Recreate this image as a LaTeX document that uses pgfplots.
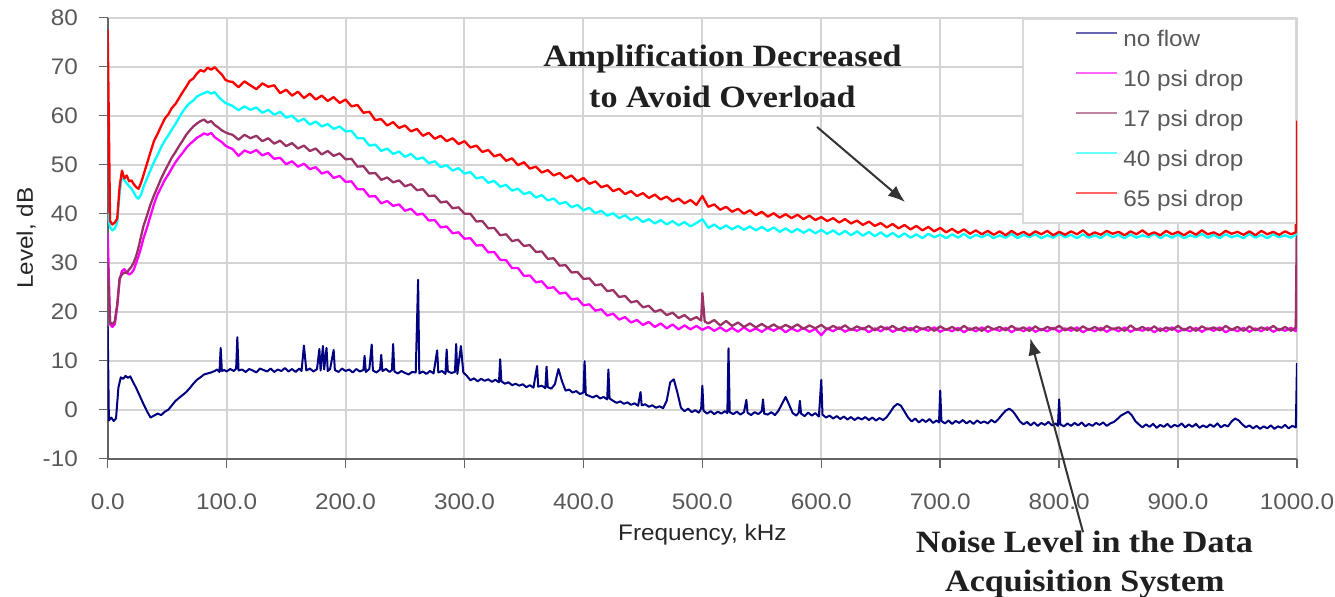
\documentclass[border=0pt]{standalone}
\usepackage{pgfplots}
\pgfplotsset{compat=1.18}
\usetikzlibrary{arrows.meta}
\usepackage{fontspec}
\setmainfont{Liberation Sans}[FakeStretch=1.08]
\newfontfamily\annotfont{Liberation Serif}[FakeStretch=1.1]

\definecolor{noflow}{RGB}{0,0,128}
\definecolor{psiten}{RGB}{255,0,255}
\definecolor{psiseventeen}{RGB}{153,51,102}
\definecolor{psiforty}{RGB}{0,255,255}
\definecolor{psisixtyfive}{RGB}{255,0,0}
\definecolor{gridgray}{RGB}{212,212,212}
\definecolor{axisgray}{RGB}{100,100,100}
\definecolor{labelgray}{RGB}{89,89,89}
\definecolor{legendframe}{RGB}{217,217,217}

\newcommand\chartfont{\fontsize{22.5bp}{27bp}\selectfont}
\newcommand\notefont{\annotfont\bfseries\fontsize{31bp}{36bp}\selectfont}

\begin{document}
\begin{tikzpicture}
\begin{axis}[
  at={(0,0)}, anchor=south west,
  scale only axis, width=1189.3bp, height=441bp,
  xmin=0, xmax=1000, ymin=-10, ymax=80,
  axis x line*=bottom, axis y line*=left,
  axis line style={line width=2bp, draw=axisgray},
  xtick={0,100,...,1000},
  xticklabels={0.0,100.0,200.0,300.0,400.0,500.0,600.0,700.0,800.0,900.0,1000.0},
  ytick={-10,0,...,80},
  yticklabels={-10,0,10,20,30,40,50,60,70,80},
  tick align=outside, major tick length=9bp,
  tick style={line width=1.5bp, draw=axisgray},
  grid=major, major grid style={line width=2bp, draw=gridgray},
  ticklabel style={font=\chartfont, text=labelgray, inner sep=0pt},
  xticklabel style={anchor=north, yshift=-26bp},
  yticklabel style={anchor=east, xshift=-20.7bp},
  xlabel={Frequency, kHz}, ylabel={Level, dB},
  label style={font=\chartfont, text=black!85, inner sep=0pt},
  xlabel style={at={([yshift=-81.3bp]axis description cs:0.5,0)}, anchor=base},
  ylabel style={at={([xshift=-74.7bp]axis description cs:0,0.5)}, anchor=base},
  clip mode=individual,
  every axis plot/.append style={line width=2.3bp, mark=none, line join=round},
  legend cell align=left,
  legend style={
    at={(0.7688,0.9993)}, anchor=north west,
    draw=legendframe, line width=1.5bp, fill=white,
    inner xsep=52bp, inner ysep=10.5bp,
    font=\chartfont, text=labelgray,
    row sep=17bp,
    nodes={inner sep=0pt, text height=17bp, text depth=6bp},
    /tikz/every odd column/.append style={column sep=5bp},
  },
  legend image code/.code={\draw[#1, line width=2.5bp, opacity=0.6] (0bp,8bp) -- (41bp,8bp);},
]

% no flow
\addplot[noflow, line width=2bp] coordinates {
(0,17.0) (1,-2.2) (3,-1.6) (5,-2.3) (7,-1.8) (9,4.5) (11,6.6) (13,6.3) (15,6.9) (17,6.5) (19,6.8) (21,5.8) (24,4.4) (27,2.8) (30,1.2) (33,-0.3) (36,-1.6) (39,-1.2) (42,-0.8) (45,-1.1) (48,-0.4) (51,0.0) (54,0.9) (57,1.8) (60,2.4) (63,3.0) (66,3.6) (69,4.4) (72,5.3) (75,6.1) (78,6.6) (81,7.2) (84,7.4) (87,7.6) (90,7.9) (92,8.2) (94,7.7) (95,12.6) (96,7.9) (98,8.1)
(100,7.8) (103,8.3) (106,7.9) (108,8.4) (109,14.8) (110,8.0) (113,8.2) (116,7.7) (119,8.3) (122,8.0) (125,7.6) (128,8.4) (131,8.1) (134,7.8) (137,8.4) (140,7.7) (143,8.2) (146,7.9) (149,8.5) (152,7.8) (155,8.3) (158,7.7) (161,8.4) (163,7.9) (165,13.1) (167,8.0) (170,8.4) (173,7.8) (176,8.3) (178,12.4) (179,8.0) (181,13.0) (182,8.2) (184,12.6) (185,7.9) (187,8.3) (190,12.2) (191,8.1) (194,7.7) (197,8.4)
(200,7.9) (203,8.2) (206,7.6) (209,8.3) (212,7.8) (215,8.1) (216,11.0) (217,7.7) (220,8.3) (222,13.3) (223,8.0) (226,7.6) (229,8.2) (230,11.2) (231,7.9) (234,8.3) (237,7.7) (239,8.1) (240,13.4) (241,7.8) (244,7.4) (247,7.9) (250,7.5) (253,7.2) (256,7.7) (259,7.6) (261,26.5) (262,7.4) (265,7.8) (268,7.3) (271,7.9) (274,7.4) (277,12.1) (278,7.6) (281,7.9) (284,7.3) (285,12.3) (286,7.8) (289,7.5) (292,7.7) (293,13.4) (294,7.3) (297,13.0) (299,7.6)
(302,6.9) (305,6.0) (308,6.4) (311,5.8) (314,6.3) (317,5.9) (320,6.2) (323,5.7) (326,6.1) (329,5.6) (330,10.3) (331,5.8) (334,5.3) (337,5.6) (340,5.0) (343,5.3) (346,4.9) (349,5.2) (352,4.6) (355,5.0) (358,4.5) (361,8.9) (362,4.7) (365,4.9) (368,4.4) (369,8.8) (370,4.6) (373,4.3) (376,5.2) (379,8.3) (382,5.8) (385,3.9) (388,4.1) (391,3.5) (394,3.8) (397,3.2)
(400,3.5) (401,9.9) (402,3.1) (405,2.8) (408,2.5) (411,2.9) (414,2.3) (417,2.6) (420,2.1) (421,8.2) (422,2.3) (425,1.8) (428,1.4) (431,1.7) (434,1.2) (437,1.5) (440,1.0) (443,1.3) (446,0.8) (448,3.6) (449,0.9) (452,1.1) (455,0.6) (458,0.9) (461,0.4) (464,0.7) (467,0.3) (470,1.8) (473,5.6) (476,6.2) (479,3.5) (482,0.4) (485,-0.3) (488,0.2) (491,-0.5) (494,-0.1) (497,-0.6) (499,0.2)
(500,4.9) (501,-0.2) (504,-0.8) (507,-0.3) (510,-0.9) (513,-0.4) (516,-0.8) (519,-0.3) (521,-0.7) (522,12.5) (523,-0.5) (526,-0.9) (529,-0.4) (532,-1.0) (535,-0.5) (537,2.0) (538,-0.6) (541,-1.1) (544,-0.5) (547,-0.9) (550,-0.3) (551,2.1) (552,-0.8) (555,-1.0) (558,-0.5) (561,-1.1) (564,-0.2) (567,1.2) (570,2.6) (573,1.0) (576,-0.7) (579,-1.2) (581,-0.6) (582,1.8) (583,-0.8) (586,-1.3) (589,-0.6) (592,-1.2) (595,-0.7) (598,-1.4)
(600,6.1) (601,-1.0) (604,-1.6) (607,-1.2) (610,-1.8) (613,-1.3) (616,-1.9) (619,-1.4) (622,-2.0) (625,-1.5) (628,-2.1) (631,-1.6) (634,-2.0) (637,-1.5) (640,-2.1) (643,-1.6) (646,-2.2) (649,-1.7) (652,-2.1) (655,-1.5) (658,-0.5) (661,0.6) (664,1.2) (667,0.8) (670,-0.4) (673,-1.6) (676,-2.4) (679,-1.8) (682,-2.6) (685,-2.0) (688,-2.5) (691,-1.9) (694,-2.7) (697,-2.2) (699,-2.6)
(700,3.9) (701,-2.3) (704,-2.8) (707,-2.2) (710,-2.9) (713,-2.3) (716,-2.7) (719,-2.1) (722,-2.8) (725,-2.3) (728,-2.9) (731,-2.2) (734,-2.7) (737,-2.4) (740,-2.8) (743,-2.1) (746,-2.6) (749,-1.9) (752,-1.0) (755,-0.2) (758,0.2) (761,-0.3) (764,-1.3) (767,-2.4) (770,-3.0) (773,-2.5) (776,-3.2) (779,-2.6) (782,-3.3) (785,-2.7) (788,-3.1) (791,-2.5) (794,-3.2) (797,-2.8) (799,-3.3)
(800,2.1) (801,-3.0) (804,-3.4) (807,-2.8) (810,-3.3) (813,-2.7) (816,-3.2) (819,-2.6) (822,-3.4) (825,-2.9) (828,-3.3) (831,-2.7) (834,-3.1) (837,-2.6) (840,-3.3) (843,-2.8) (846,-2.5) (849,-1.9) (852,-1.2) (855,-0.8) (858,-0.4) (861,-1.1) (864,-2.3) (867,-3.0) (870,-3.6) (873,-3.0) (876,-3.5) (879,-2.9) (882,-3.7) (885,-3.1) (888,-3.5) (891,-2.9) (894,-3.6) (897,-3.1)
(900,-3.4) (903,-2.8) (906,-3.6) (909,-3.0) (912,-3.5) (915,-2.9) (918,-3.7) (921,-3.2) (924,-3.6) (927,-3.0) (930,-3.5) (933,-2.8) (936,-3.6) (939,-3.1) (942,-3.4) (945,-2.4) (948,-1.8) (951,-2.2) (954,-3.0) (957,-3.6) (960,-3.2) (963,-3.8) (966,-3.3) (969,-3.9) (972,-3.4) (975,-3.8) (978,-3.2) (981,-3.9) (984,-3.4) (987,-3.7) (990,-3.1) (993,-3.8) (996,-3.3) (999,-3.6) (1000,9.5)
};
\addlegendentry{no flow}

% 10 psi drop
\addplot[psiten] coordinates {
(0,36.0) (2,17.4) (4,16.9) (6,17.5) (8,21.0) (10,26.5) (12,28.3) (14,28.7) (16,28.0) (18,27.6) (20,27.9) (22,28.6) (24,30.0) (26,31.4) (28,33.0) (30,34.9) (33,37.1) (36,39.6) (39,42.0) (42,44.0) (45,45.4) (48,46.9) (51,48.0) (54,49.3) (57,50.5) (60,51.5) (63,52.4) (66,53.4) (69,54.2) (72,54.8) (75,55.5) (78,55.9) (81,56.4) (84,56.1) (87,56.5) (90,55.6) (93,55.1) (96,54.6) (99,53.9) (102,53.5)
(105,53.2) (110,51.8) (115,52.9) (120,52.4) (125,53.0) (130,51.9) (135,52.4) (140,51.2) (145,51.4) (150,50.1) (155,50.7) (160,49.6) (165,50.2) (170,49.1) (175,49.5) (180,48.2) (185,48.6) (190,47.3) (195,47.7) (200,46.5)
(205,46.6) (210,45.0) (215,45.0) (220,43.5) (225,43.6) (230,42.1) (235,42.6) (240,41.6) (245,41.9) (250,40.6) (255,41.0) (260,39.8) (265,40.0) (270,38.6) (275,38.7) (280,37.2) (285,37.4) (290,36.0) (295,36.2) (300,34.9)
(305,35.0) (310,33.5) (315,33.6) (320,32.1) (325,32.2) (330,30.6) (335,30.5) (340,28.9) (345,28.9) (350,27.3) (355,27.4) (360,26.0) (365,26.2) (370,24.8) (375,25.0) (380,23.7) (385,23.9) (390,22.5) (395,22.7) (400,21.3)
(405,21.5) (410,20.2) (415,20.5) (420,19.2) (425,19.6) (430,18.4) (435,18.9) (440,17.8) (445,18.3) (450,17.3) (455,17.9) (460,16.9) (465,17.6) (470,16.6) (475,17.4) (480,16.4) (485,17.2) (490,16.4) (495,17.1) (500,16.3)
(505,16.9) (510,16.1) (515,16.8) (520,16.0) (525,16.7) (530,15.9) (535,16.8) (540,16.0) (545,16.6) (550,15.9) (555,16.7) (560,16.1) (565,16.8) (570,15.8) (575,16.6) (580,16.0) (585,16.7) (590,15.9) (595,16.5) (600,15.2)
(605,16.6) (610,16.0) (615,16.8) (620,15.9) (625,16.5) (630,16.1) (635,16.7) (640,15.8) (645,16.6) (650,16.0) (655,16.8) (660,15.9) (665,16.5) (670,16.0) (675,16.7) (680,15.9) (685,16.6) (690,16.1) (695,16.8) (700,15.9)
(705,16.5) (710,16.0) (715,16.7) (720,15.8) (725,16.6) (730,16.0) (735,16.8) (740,15.9) (745,16.5) (750,16.1) (755,16.7) (760,15.8) (765,16.6) (770,16.0) (775,16.8) (780,15.9) (785,16.5) (790,16.0) (795,16.7) (800,15.9)
(805,16.6) (810,16.1) (815,16.8) (820,15.8) (825,16.5) (830,16.0) (835,16.7) (840,15.9) (845,16.6) (850,16.0) (855,16.8) (860,15.9) (865,16.5) (870,16.1) (875,16.7) (880,15.8) (885,16.6) (890,16.0) (895,16.8) (900,15.9)
(905,16.5) (910,16.0) (915,16.7) (920,15.9) (925,16.6) (930,16.1) (935,16.8) (940,15.8) (945,16.5) (950,16.0) (955,16.7) (960,15.9) (965,16.6) (970,16.0) (975,16.8) (980,15.9) (985,16.5) (990,16.1) (995,16.7) (999,16.0) (1000,30.0)
};
\addlegendentry{10 psi drop}

% 17 psi drop
\addplot[psiseventeen] coordinates {
(0,30.0) (2,17.9) (4,17.4) (6,18.1) (8,21.5) (10,26.8) (12,27.6) (14,28.0) (16,27.9) (18,28.6) (20,29.2) (22,30.1) (24,31.4) (26,33.2) (28,35.3) (30,37.4) (33,39.6) (36,41.9) (39,43.8) (42,45.5) (45,47.2) (48,48.7) (51,50.1) (54,51.5) (57,52.6) (60,53.8) (63,54.9) (66,56.1) (69,57.0) (72,57.8) (75,58.4) (78,58.9) (81,59.2) (84,58.6) (87,58.9) (90,58.1) (93,57.6) (96,57.0) (99,56.6) (102,56.3)
(105,56.1) (110,55.1) (115,56.1) (120,55.4) (125,55.9) (130,54.8) (135,55.4) (140,54.3) (145,54.9) (150,53.8) (155,54.4) (160,53.3) (165,53.9) (170,52.8) (175,53.3) (180,52.1) (185,52.8) (190,51.8) (195,52.3) (200,51.1)
(205,51.2) (210,49.6) (215,49.7) (220,48.2) (225,48.3) (230,46.9) (235,47.4) (240,46.4) (245,46.8) (250,45.6) (255,46.0) (260,44.8) (265,45.0) (270,43.6) (275,43.7) (280,42.3) (285,42.5) (290,41.1) (295,41.3) (300,40.0)
(305,40.0) (310,38.4) (315,38.5) (320,37.0) (325,37.1) (330,35.6) (335,35.8) (340,34.4) (345,34.7) (350,33.4) (355,33.6) (360,32.2) (365,32.3) (370,30.8) (375,30.9) (380,29.4) (385,29.5) (390,28.0) (395,28.1) (400,26.7)
(405,26.8) (410,25.4) (415,25.6) (420,24.2) (425,24.4) (430,23.0) (435,23.2) (440,21.9) (445,22.2) (450,20.9) (455,21.2) (460,20.0) (465,20.4) (470,19.3) (475,19.8) (480,18.7) (485,19.3) (490,18.3) (495,18.9) (499,18.2) (500,23.8) (502,18.0)
(505,17.6) (510,18.3) (515,17.2) (520,18.1) (525,17.1) (530,17.8) (535,16.9) (540,17.6) (545,16.8) (550,17.5) (555,16.7) (560,17.4) (565,16.6) (570,17.3) (575,16.7) (580,17.4) (585,16.5) (590,17.2) (595,16.6) (600,17.3)
(605,16.4) (610,17.1) (615,16.5) (620,17.2) (625,16.3) (630,17.0) (635,16.4) (640,17.1) (645,16.2) (650,17.0) (655,16.4) (660,17.1) (665,16.3) (670,16.9) (675,16.2) (680,17.0) (685,16.4) (690,16.9) (695,16.1) (700,17.0)
(705,16.3) (710,16.9) (715,16.2) (720,17.1) (725,16.3) (730,16.8) (735,16.1) (740,17.0) (745,16.4) (750,16.9) (755,16.2) (760,17.1) (765,16.3) (770,16.8) (775,16.1) (780,17.0) (785,16.2) (790,16.9) (795,16.4) (800,17.1)
(805,16.2) (810,16.8) (815,16.1) (820,17.0) (825,16.3) (830,16.9) (835,16.2) (840,17.1) (845,16.4) (850,16.8) (855,16.1) (860,17.2) (865,16.3) (870,16.9) (875,16.2) (880,17.0) (885,16.1) (890,16.8) (895,16.3) (900,17.1)
(905,16.2) (910,16.9) (915,16.1) (920,17.0) (925,16.4) (930,16.8) (935,16.2) (940,17.1) (945,16.3) (950,16.9) (955,16.1) (960,17.0) (965,16.2) (970,16.8) (975,16.3) (980,17.1) (985,16.2) (990,16.9) (995,16.1) (999,16.8) (1000,43.0)
};
\addlegendentry{17 psi drop}

% 40 psi drop
\addplot[psiforty] coordinates {
(0,40.0) (2,37.2) (4,36.6) (6,37.0) (8,38.2) (10,44.2) (12,47.6) (14,46.9) (16,46.2) (18,45.6) (20,45.1) (22,44.3) (24,43.4) (26,43.1) (28,43.9) (30,45.4) (33,47.2) (36,48.9) (39,50.6) (42,52.0) (45,53.6) (48,54.9) (51,56.0) (54,57.2) (57,58.3) (60,59.6) (63,60.8) (66,61.8) (69,62.6) (72,63.1) (75,63.9) (78,64.3) (81,64.6) (84,64.9) (87,64.5) (90,64.8) (93,63.9) (96,63.2) (99,62.6) (102,62.3)
(105,62.0) (110,61.1) (115,61.9) (120,61.2) (125,61.7) (130,60.6) (135,61.2) (140,60.2) (145,60.8) (150,59.6) (155,60.0) (160,58.8) (165,59.4) (170,58.2) (175,58.8) (180,57.8) (185,58.3) (190,57.3) (195,57.8) (200,56.8)
(205,56.9) (210,55.4) (215,55.4) (220,53.9) (225,54.1) (230,52.8) (235,53.3) (240,52.2) (245,52.7) (250,51.6) (255,52.2) (260,51.1) (265,51.5) (270,50.3) (275,50.7) (280,49.5) (285,49.9) (290,48.8) (295,49.3) (300,48.2)
(305,48.5) (310,47.2) (315,47.5) (320,46.3) (325,46.7) (330,45.5) (335,45.9) (340,44.7) (345,45.1) (350,44.0) (355,44.4) (360,43.3) (365,43.8) (370,42.7) (375,43.1) (380,42.0) (385,42.4) (390,41.3) (395,41.8) (400,40.7)
(405,41.2) (410,40.1) (415,40.6) (420,39.6) (425,40.1) (430,39.1) (435,39.7) (440,38.7) (445,39.3) (450,38.3) (455,38.9) (460,38.0) (465,38.7) (470,37.8) (475,38.5) (480,37.6) (485,38.3) (490,37.4) (495,38.1) (500,38.9)
(505,37.1) (510,37.8) (515,36.9) (520,37.6) (525,36.8) (530,37.5) (535,36.7) (540,37.4) (545,36.6) (550,37.3) (555,36.5) (560,37.2) (565,36.3) (570,37.0) (575,36.2) (580,36.9) (585,36.1) (590,36.8) (595,36.0) (600,36.7)
(605,35.9) (610,36.6) (615,35.7) (620,36.5) (625,35.6) (630,36.4) (635,35.5) (640,36.3) (645,35.4) (650,36.2) (655,35.3) (660,36.1) (665,35.2) (670,36.0) (675,35.1) (680,35.8) (685,35.0) (690,35.9) (695,35.2) (700,35.7)
(705,35.0) (710,35.8) (715,35.1) (720,35.9) (725,35.0) (730,35.7) (735,35.2) (740,35.8) (745,35.0) (750,35.6) (755,35.1) (760,35.9) (765,35.0) (770,35.7) (775,35.2) (780,35.8) (785,35.0) (790,35.6) (795,35.1) (800,35.9)
(805,35.2) (810,35.7) (815,35.0) (820,35.8) (825,35.1) (830,35.6) (835,35.0) (840,35.9) (845,35.2) (850,35.7) (855,35.0) (860,35.8) (865,35.1) (870,35.6) (875,35.2) (880,35.9) (885,35.0) (890,35.7) (895,35.1) (900,35.8)
(905,35.0) (910,35.6) (915,35.2) (920,35.9) (925,35.1) (930,35.7) (935,35.0) (940,35.8) (945,35.2) (950,35.6) (955,35.0) (960,35.9) (965,35.1) (970,35.7) (975,35.0) (980,35.8) (985,35.2) (990,35.6) (995,35.1) (999,35.7) (1000,45.0)
};
\addlegendentry{40 psi drop}

% 65 psi drop
\addplot[psisixtyfive] coordinates {
(0,77.5) (2,38.5) (4,37.8) (6,38.2) (8,39.0) (10,45.5) (12,48.8) (14,47.2) (16,47.8) (18,46.6) (20,46.8) (22,46.0) (24,45.4) (26,45.1) (28,46.3) (30,47.8) (33,50.2) (36,52.6) (39,54.9) (42,56.3) (45,57.9) (48,59.4) (51,60.3) (54,61.6) (57,62.4) (60,63.6) (63,64.8) (66,65.9) (69,67.1) (72,67.6) (75,68.6) (78,69.3) (81,69.0) (84,69.8) (87,69.4) (90,69.9) (93,69.1) (96,68.4) (99,67.3) (102,67.0)
(105,66.9) (110,65.8) (115,67.0) (120,66.2) (125,65.4) (130,66.6) (135,65.9) (140,66.2) (145,64.6) (150,65.3) (155,64.1) (160,64.9) (165,63.6) (170,64.5) (175,63.3) (180,64.1) (185,63.0) (190,63.8) (195,62.6) (200,63.3)
(205,61.9) (210,62.2) (215,60.6) (220,60.8) (225,59.1) (230,59.3) (235,58.0) (240,58.7) (245,57.5) (250,58.0) (255,56.8) (260,57.3) (265,55.9) (270,56.5) (275,55.3) (280,55.9) (285,54.8) (290,55.4) (295,54.2) (300,54.8)
(305,53.5) (310,53.9) (315,52.6) (320,53.0) (325,51.7) (330,52.1) (335,50.8) (340,51.3) (345,49.9) (350,50.5) (355,49.2) (360,49.6) (365,48.4) (370,48.9) (375,47.8) (380,48.3) (385,47.2) (390,47.8) (395,46.6) (400,47.3)
(405,46.1) (410,46.6) (415,45.4) (420,45.8) (425,44.6) (430,45.1) (435,44.0) (440,44.6) (445,43.6) (450,44.2) (455,43.2) (460,43.9) (465,42.9) (470,43.5) (475,42.5) (480,43.1) (485,42.1) (490,42.8) (495,41.8) (500,43.6)
(505,41.4) (510,41.9) (515,40.8) (520,41.4) (525,40.4) (530,41.0) (535,40.0) (540,40.7) (545,39.7) (550,40.4) (555,39.4) (560,40.1) (565,39.2) (570,39.9) (575,39.1) (580,39.8) (585,38.9) (590,39.6) (595,38.7) (600,39.3)
(605,38.5) (610,39.1) (615,38.2) (620,38.9) (625,38.0) (630,38.6) (635,37.7) (640,38.4) (645,37.5) (650,38.1) (655,37.2) (660,37.9) (665,37.0) (670,37.7) (675,36.8) (680,37.5) (685,36.6) (690,37.3) (695,36.4) (700,37.1)
(705,36.2) (710,36.9) (715,36.1) (720,36.8) (725,35.9) (730,36.6) (735,35.8) (740,36.5) (745,35.7) (750,36.4) (755,35.6) (760,36.5) (765,35.7) (770,36.3) (775,35.6) (780,36.4) (785,35.8) (790,36.5) (795,35.6) (800,36.3)
(805,35.7) (810,36.4) (815,35.8) (820,36.6) (825,35.6) (830,36.2) (835,35.7) (840,36.5) (845,35.9) (850,36.3) (855,35.6) (860,36.4) (865,35.8) (870,36.6) (875,35.7) (880,36.2) (885,35.6) (890,36.5) (895,35.8) (900,36.3)
(905,35.6) (910,36.4) (915,35.7) (920,36.6) (925,35.8) (930,36.2) (935,35.6) (940,36.5) (945,35.9) (950,36.3) (955,35.7) (960,36.4) (965,35.6) (970,36.5) (975,35.8) (980,36.3) (985,35.7) (990,36.4) (995,35.8) (999,36.2) (1000,59.0)
};
\addlegendentry{65 psi drop}

% callouts
\node[font=\notefont, anchor=base, inner sep=0pt, text=black!88] at (axis cs:516.9,70.1) {Amplification Decreased};
\node[font=\notefont, anchor=base, inner sep=0pt, text=black!88] at (axis cs:516.9,61.7) {to Avoid Overload};
\draw[line width=2bp, draw=black!80, -{Latex[length=17bp,width=13bp]}] (axis cs:596.4,57.7) -- (axis cs:670.4,42.4);
\node[font=\notefont, anchor=base, inner sep=0pt, text=black!88] at (axis cs:821.3,-29.2) {Noise Level in the Data};
\node[font=\notefont, anchor=base, inner sep=0pt, text=black!88] at (axis cs:821.7,-37.0) {Acquisition System};
\draw[line width=2bp, draw=black!80, -{Latex[length=17bp,width=13bp]}] (axis cs:820.1,-25.0) -- (axis cs:775.7,14.6);
\end{axis}
\pgfresetboundingbox
\path[use as bounding box] (-107.7bp,-138.3bp) rectangle (1227.3bp,458.7bp);
\end{tikzpicture}
\end{document}
